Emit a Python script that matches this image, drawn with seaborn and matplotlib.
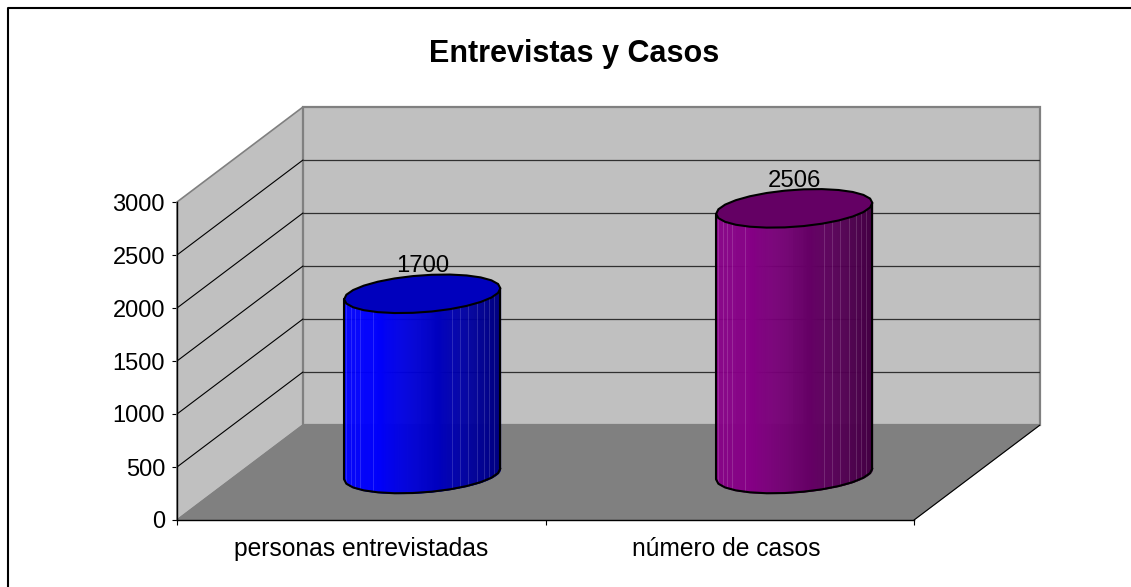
import numpy as np
import pandas as pd
import matplotlib
matplotlib.use("Agg")
import matplotlib.pyplot as plt
from matplotlib.lines import Line2D
from matplotlib.patches import Polygon, Rectangle
import seaborn as sns

categorias = ["personas entrevistadas", "número de casos"]
valores = [1700, 2506]
ticks_y = [0, 500, 1000, 1500, 2000, 2500, 3000]

azul = (0.0, 0.0, 1.0)
morado = (0.53, 0.0, 0.53)
colores = [azul, morado]

W, H = 1131, 587

sns.set_theme(style="white")
plt.rcParams["font.family"] = ["Liberation Sans", "DejaVu Sans"]

fig = plt.figure(figsize=(W / 100, H / 100), dpi=100)
# el eje va de la esquina frontal (177,520) a la trasera (1040,107)
ax = fig.add_axes([177 / W, 1 - 520 / H, (1040 - 177) / W, (520 - 107) / H])

# pixeles por unidad en cada eje
px_x = 737 / 2
px_y = 318 / 3000
fondo_x = 126 / px_x
fondo_y = 95 / px_y
ax.set_xlim(-0.5, 1.5 + fondo_x)
ax.set_ylim(0, 3000 + fondo_y)

# paredes y suelo
x0, x1 = -0.5, 1.5
y_max = ticks_y[-1]
ax.add_patch(Polygon([(x0, 0), (x0, y_max), (x0 + fondo_x, y_max + fondo_y), (x0 + fondo_x, fondo_y)],
                     fc="#C0C0C0", ec="#808080", lw=1.2, zorder=1, clip_on=False))
ax.add_patch(Polygon([(x0 + fondo_x, fondo_y), (x0 + fondo_x, y_max + fondo_y), (x1 + fondo_x, y_max + fondo_y), (x1 + fondo_x, fondo_y)],
                     fc="#C0C0C0", ec="#808080", lw=1.6, zorder=1, clip_on=False))
ax.add_patch(Polygon([(x0, 0), (x1, 0), (x1 + fondo_x, fondo_y), (x0 + fondo_x, fondo_y)],
                     fc="#808080", ec="#808080", lw=0.8, zorder=2, clip_on=False))
ax.plot([x1, x1 + fondo_x], [0, fondo_y], color="black", lw=0.8, zorder=3)

# lineas de division
for t in ticks_y[1:-1]:
    ax.plot([x0, x0 + fondo_x], [t, t + fondo_y], color="black", lw=0.8, zorder=2)
    ax.plot([x0 + fondo_x, x1 + fondo_x], [t + fondo_y, t + fondo_y], color="#303030", lw=0.9, zorder=2)

# cilindros: la barra de seaborn da la posicion y la altura
base = 434
datos = pd.DataFrame({"pos": [fondo_x / 2 - 2 / px_x, 1.0 + fondo_x / 2 + 1.5 / px_x], "valor": valores, "cat": categorias})
sns.barplot(data=datos, x="pos", y="valor", hue="cat", palette=colores, native_scale=True,
            width=0.42, dodge=False, bottom=base, legend=False, ax=ax, zorder=4, linewidth=0)

a_y = 18.5 / px_y
inclina = 5.5 / px_y
facetas = np.deg2rad([11.5, 23, 30.7, 38, 45.6, 54.5, 61, 68, 129, 143, 149, 156, 166])
barras = [b for b in ax.patches if isinstance(b, Rectangle) and b.get_width() > 0]

for barra, color in zip(barras, colores):
    centro = barra.get_x() + barra.get_width() / 2
    a_x = barra.get_width() / 2
    abajo = barra.get_y()
    arriba = abajo + barra.get_height()
    # contorno con pocos puntos, como el original
    ang = np.deg2rad(np.arange(0, 361, 13.846))
    cx = centro + a_x * np.cos(ang)
    elipse_y = a_y * np.sin(ang) + inclina * np.cos(ang)

    u = np.linspace(-1, 1, 160)
    u_c = 0.5 * (u[:-1] + u[1:])
    for i in range(len(u) - 1):
        tono = 1.0 if u_c[i] < -0.6 else 1.0 - 0.5 * (u_c[i] + 0.6) / 1.6
        c = tuple(v * tono for v in color)
        xs = centro + a_x * u[i:i + 2]
        inf = abajo + inclina * u[i:i + 2] - a_y * np.sqrt(np.clip(1 - u[i:i + 2] ** 2, 0, 1))
        sup = arriba + inclina * u[i:i + 2]
        ax.fill_between(xs, inf, sup, color=c, lw=0.4, zorder=5)

    # rayas claras de las facetas
    for f in facetas:
        xf = np.cos(f)
        yb = abajo + inclina * xf - a_y * np.sin(f)
        ax.plot([centro + a_x * xf] * 2, [yb, arriba + inclina * xf], color="white", alpha=0.15, lw=0.7, zorder=6)

    barra.set_visible(False)

    # borde del cuerpo
    t = np.deg2rad(np.arange(180, 361, 13.846))
    ax.plot(centro + a_x * np.cos(t), abajo + a_y * np.sin(t) + inclina * np.cos(t), color="black", lw=1.5, zorder=7)
    ax.plot([centro - a_x] * 2, [abajo - inclina, arriba - inclina], color="black", lw=1.5, zorder=7)
    ax.plot([centro + a_x] * 2, [abajo + inclina, arriba + inclina], color="black", lw=1.5, zorder=7)

    # tapa
    tapa = tuple(v * 0.74 for v in color)
    ax.add_patch(Polygon(np.column_stack([cx, arriba + elipse_y]), closed=True, fc=tapa, ec="black", lw=1.5, zorder=9))

    ax.annotate(f"{barra.get_height():.0f}", (centro, arriba), xytext=(0, 20), textcoords="offset points",
                ha="center", va="center", fontsize=17.2, color="black", zorder=8)

# ejes
for lado in ["top", "right"]:
    ax.spines[lado].set_visible(False)
ax.spines["left"].set_bounds(0, y_max)
ax.spines["bottom"].set_bounds(x0, x1)
for lado in ["left", "bottom"]:
    ax.spines[lado].set_color("black")
    ax.spines[lado].set_linewidth(1.0)
    ax.spines[lado].set_zorder(10)
ax.patch.set_visible(False)
ax.set_yticks(ticks_y)
ax.set_xticks([-0.5, 0.5, 1.5])
ax.set_xticklabels([])
ax.tick_params(axis="both", which="major", left=True, bottom=True, length=3.6, width=0.8, color="black",
               labelsize=17, labelcolor="black", pad=5)
ax.set_xticks([0.0, 0.99], minor=True)
ax.set_xticklabels(categorias, minor=True)
ax.tick_params(axis="x", which="minor", length=0, labelsize=17.7, labelcolor="black", pad=12)
ax.set_xlabel("")
ax.set_ylabel("")

fig.text(574 / W, 1 - 54 / H, "Entrevistas y Casos", ha="center", va="center", fontsize=22, fontweight="bold", color="black")

# marco del grafico: solo arriba e izquierda
fig.add_artist(Line2D([7.5 / W, 7.5 / W, 1], [0, 1 - 7.5 / H, 1 - 7.5 / H], transform=fig.transFigure, color="black", lw=1.5))

fig.savefig("out.png", dpi=100)
